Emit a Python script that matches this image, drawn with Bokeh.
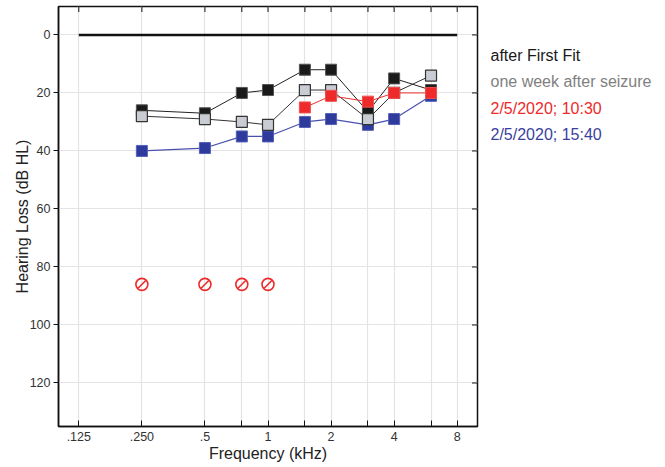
import math
from bokeh.plotting import figure
from bokeh.models import Range1d, FixedTicker, Label
from bokeh.layouts import row
from bokeh.embed import file_html
from bokeh.resources import INLINE

# ---- data ----
freqs_khz = [0.25, 0.5, 0.75, 1.0, 1.5, 2.0, 3.0, 4.0, 6.0]
first_fit = [26, 27, 20, 19, 12, 12, 26.5, 15, 19]
week_after = [28, 29, 30, 31, 19, 19, 29, 20, 14]
red_freqs = [1.5, 2.0, 3.0, 4.0, 6.0]
red_1030 = [25, 21, 23, 20, 20]
blue_1540 = [40, 39, 35, 35, 30, 29, 31, 29, 21]
nr_freqs = [0.25, 0.5, 0.75, 1.0]
nr_levels = [86, 86, 86, 86]
ref_line_x = [0.125, 8.0]
ref_line_y = [0, 0]

tick_freqs = [0.125, 0.25, 0.5, 0.75, 1.0, 1.5, 2.0, 3.0, 4.0, 6.0, 8.0]
tick_labels = {0.125: ".125", 0.25: ".250", 0.5: ".5", 0.75: "", 1.0: "1", 1.5: "",
               2.0: "2", 3.0: "", 4.0: "4", 6.0: "", 8.0: "8"}
y_ticks = [0, 20, 40, 60, 80, 100, 120]

legend_items = ["after First Fit", "one week after seizure", "2/5/2020; 10:30", "2/5/2020; 15:40"]
legend_colors = ["#1a1a1a", "#808080", "#ee2a2a", "#3a3f9e"]

FONT = "Liberation Sans"
X_LO, X_HI = 0.1, 10
Y_LO, Y_HI = 135, -9.8
H = 466

p = figure(width=479, height=H, output_backend="svg", toolbar_location=None,
           x_axis_type="log", x_range=Range1d(X_LO, X_HI), y_range=Range1d(Y_LO, Y_HI),
           min_border_left=58, min_border_right=2, min_border_top=6, min_border_bottom=40,
           background_fill_color="white", border_fill_color="white")
p.outline_line_color = "#111111"
p.outline_line_width = 1.5

# grid
p.xgrid.ticker = FixedTicker(ticks=tick_freqs)
p.ygrid.ticker = FixedTicker(ticks=y_ticks)
p.xgrid.grid_line_color = "#e4e4e8"
p.ygrid.grid_line_color = "#e4e4e8"
p.xgrid.grid_line_width = 1.2
p.ygrid.grid_line_width = 1.2

# x axis
xa = p.xaxis[0]
xa.ticker = FixedTicker(ticks=tick_freqs, minor_ticks=[])
xa.major_label_overrides = tick_labels
xa.major_tick_in = 6
xa.major_tick_out = 0
xa.minor_tick_in = 0
xa.minor_tick_out = 0
xa.axis_line_color = "#111111"
xa.axis_line_width = 1.5
xa.major_tick_line_color = "#111111"
xa.major_label_text_font = FONT
xa.major_label_text_font_size = "12.5px"
xa.major_label_text_color = "#333333"
xa.major_label_standoff = 5
xa.axis_label = "Frequency (kHz)"
xa.axis_label_text_font = FONT
xa.axis_label_text_font_size = "16px"
xa.axis_label_text_font_style = "normal"
xa.axis_label_text_color = "#222222"
xa.axis_label_standoff = 1

# y axis
ya = p.yaxis[0]
ya.ticker = FixedTicker(ticks=y_ticks, minor_ticks=[])
ya.major_tick_in = 0
ya.major_tick_out = 5
ya.minor_tick_in = 0
ya.minor_tick_out = 0
ya.axis_line_color = "#111111"
ya.axis_line_width = 1.5
ya.major_tick_line_color = "#111111"
ya.major_label_text_font = FONT
ya.major_label_text_font_size = "12.5px"
ya.major_label_text_color = "#333333"
ya.major_label_standoff = 3
ya.axis_label = "Hearing Loss (dB HL)"
ya.axis_label_text_font = FONT
ya.axis_label_text_font_size = "16px"
ya.axis_label_text_font_style = "normal"
ya.axis_label_text_color = "#222222"
ya.axis_label_standoff = -4

# mirror ticks on top and right edges (half of each dash is clipped by the frame)
p.scatter(tick_freqs, [Y_HI] * len(tick_freqs), marker="dash", size=11, angle=math.pi / 2,
          line_color="#111111", line_width=1)
p.scatter([X_HI] * len(y_ticks), y_ticks, marker="dash", size=11,
          line_color="#111111", line_width=1)

# reference line at 0 dB
p.line(ref_line_x, ref_line_y, line_color="#111111", line_width=2.5)

# series lines
p.line(freqs_khz, blue_1540, line_color="#4a50b0", line_width=1.2)
p.line(freqs_khz, first_fit, line_color="#222222", line_width=1.0)
p.line(freqs_khz, week_after, line_color="#333333", line_width=1.0)
p.line(red_freqs, red_1030, line_color="#ee3030", line_width=1.0)

# markers
p.scatter(freqs_khz, blue_1540, marker="square", size=11, fill_color="#2e3a9c",
          line_color="#5560b8", line_width=1)
p.scatter(freqs_khz, first_fit, marker="square", size=11, fill_color="#1a1a1a",
          line_color="#555555", line_width=1)
p.scatter(freqs_khz, week_after, marker="square", size=11, fill_color="#c9ccd3",
          line_color="#333333", line_width=1.2)
p.scatter(red_freqs, red_1030, marker="square", size=11, fill_color="#ee2a2a",
          line_color="#f05050", line_width=1)

# no-response symbols
p.scatter(nr_freqs, nr_levels, marker="circle", size=12, fill_color=None,
          line_color="#ee2a2a", line_width=1.6)
p.scatter(nr_freqs, nr_levels, marker="dash", size=11, angle=math.pi / 4,
          line_color="#ee2a2a", line_width=1.6)

# legend panel: a bare figure to the right, in pixel-like coordinates
LW = 185
leg = figure(width=LW, height=H, output_backend="svg", toolbar_location=None,
             x_range=Range1d(0, LW), y_range=Range1d(H, 0),
             min_border=0, outline_line_color=None,
             background_fill_color="white", border_fill_color="white")
leg.axis.visible = False
leg.grid.visible = False
for i, (txt, col) in enumerate(zip(legend_items, legend_colors)):
    leg.add_layout(Label(x=11, y=54 + 29.4 * i, text=txt, text_color=col, text_font=FONT,
                         text_font_size="16px", text_baseline="middle", text_align="left"))

layout = row(p, leg, spacing=0)
open("out.html", "w").write(file_html(layout, INLINE))
